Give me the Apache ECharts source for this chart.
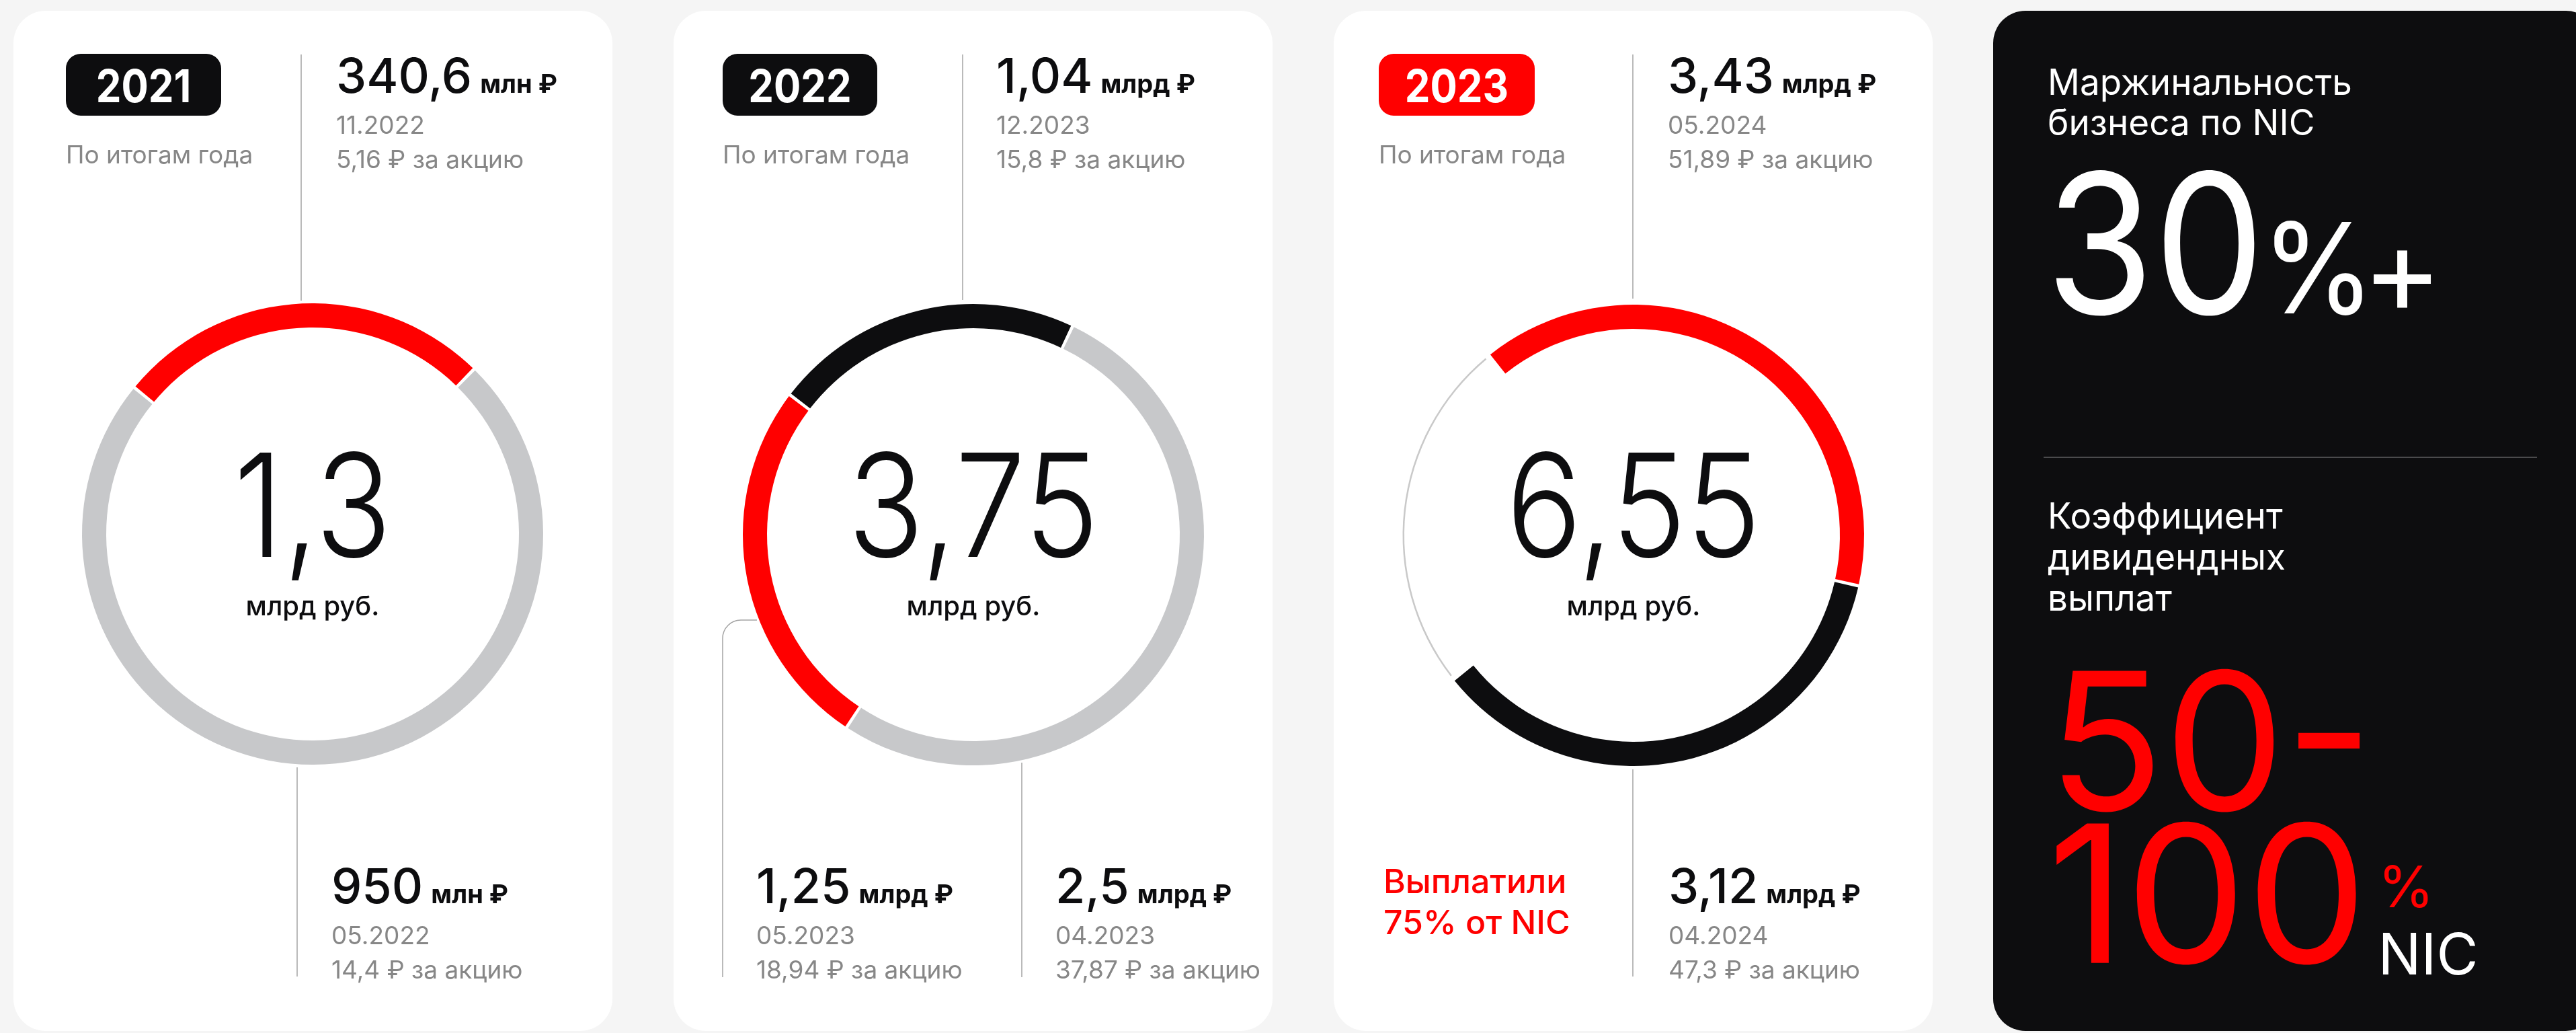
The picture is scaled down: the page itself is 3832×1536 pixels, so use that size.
<!DOCTYPE html>
<html>
<head>
<meta charset="utf-8">
<script src="https://cdn.jsdelivr.net/npm/echarts@6/dist/echarts.min.js"></script>
<style>
  html, body { margin: 0; padding: 0; background: #f5f5f5; }
  #chart { width: 3832px; height: 1536px; }
</style>
</head>
<body>
<div id="chart"></div>
<script>
const FONT = 'Inter, "Noto Sans", sans-serif'
const RED = '#ff0000'
const BLACK = '#0d0d0f'
const GRAY = '#c7c8ca'
const MUTED = '#878787'
const LINE = '#a3a3a3'
const NONE = 'rgba(0,0,0,0)'

// data
const years = ['2021', '2022', '2023']
const yearTotals = ['1,3', '3,75', '6,55']
const totalUnit = 'млрд руб.'
const yearNote = 'По итогам года'

// ring parts, clockwise from the start angle
const ring2021 = [340.6, 950]
const ring2022 = [1.04, 2.5, 1.25]
const ring2023 = [3.43, 3.12, 2.18] // last part = not paid (25% of NIC)

// payments: amount, unit, date, per share
const top2021 = ['340,6', 'млн ₽', '11.2022', '5,16 ₽ за акцию']
const bottom2021 = ['950', 'млн ₽', '05.2022', '14,4 ₽ за акцию']
const top2022 = ['1,04', 'млрд ₽', '12.2023', '15,8 ₽ за акцию']
const bottomLeft2022 = ['1,25', 'млрд ₽', '05.2023', '18,94 ₽ за акцию']
const bottomRight2022 = ['2,5', 'млрд ₽', '04.2023', '37,87 ₽ за акцию']
const top2023 = ['3,43', 'млрд ₽', '05.2024', '51,89 ₽ за акцию']
const bottom2023 = ['3,12', 'млрд ₽', '04.2024', '47,3 ₽ за акцию']
const paidNote = ['Выплатили', '75% от NIC']

const marginTitle = ['Маржинальность', 'бизнеса по NIC']
const marginValue = ['30', '%', '+']
const payoutTitle = ['Коэффициент', 'дивидендных', 'выплат']
const payoutRange = ['50-', '100']
const payoutUnit = ['%', 'NIC']

// helpers
const ctx = document.createElement('canvas').getContext('2d')
function measure(str, size, weight) {
  ctx.font = weight + ' ' + size + 'px ' + FONT
  return ctx.measureText(str).width
}

// base = baseline y; sx = horizontal squeeze (the original face is narrower)
function text(x, base, str, size, weight, color, align, sx) {
  return {
    type: 'text',
    x: x,
    y: base - 0.305 * size,
    scaleX: sx || 1,
    silent: true,
    z: 10,
    style: {
      text: str,
      fontSize: size,
      fontWeight: weight,
      fontFamily: FONT,
      fill: color,
      align: align || 'left',
      verticalAlign: 'middle',
    },
  }
}

function line(x1, y1, x2, y2, color, width) {
  return {
    type: 'line',
    silent: true,
    shape: { x1, y1, x2, y2 },
    style: { stroke: color || LINE, lineWidth: width || 1.5 },
  }
}

function card(x, w, fill) {
  return {
    type: 'rect',
    silent: true,
    z: -10,
    shape: { x: x, y: 16, width: w, height: 1517, r: 48 },
    style: { fill: fill },
  }
}

function badge(x, w, label, fill) {
  return [
    {
      type: 'rect',
      silent: true,
      shape: { x: x, y: 80, width: w, height: 92, r: 22 },
      style: { fill: fill },
    },
    text(x + w / 2, 152, label, 68, 700, '#fff', 'center', 0.88),
  ]
}

// amount + unit, date, per share
function payment(x, base, item) {
  const w = measure(item[0], 72, 500)
  return [
    text(x, base, item[0], 72, 500, BLACK),
    text(x + w + 12, base, item[1], 38, 700, BLACK),
    text(x, base + 61, item[2], 37, 400, MUTED),
    text(x, base + 112, item[3], 37, 400, MUTED),
  ]
}

function centerTotal(cx, value) {
  return [
    text(cx, 829, value, 213, 300, BLACK, 'center', 0.88),
    text(cx, 915, totalUnit, 40, 500, BLACK, 'center'),
  ]
}

function ring(center, values, colors, startAngle, radius, pad) {
  return {
    type: 'pie',
    center: center,
    radius: radius,
    startAngle: startAngle,
    clockwise: true,
    padAngle: pad,
    silent: true,
    animation: false,
    label: { show: false },
    labelLine: { show: false },
    emphasis: { disabled: true },
    data: values.map(function (v, i) {
      return { value: v, itemStyle: { color: colors[i], borderWidth: 0 } }
    }),
  }
}

const RING = [307, 343]

const graphics = [
  card(20, 891, '#fff'),
  card(1002, 891, '#fff'),
  card(1984, 891, '#fff'),
  card(2965, 900, BLACK),

  // 2021
  ...badge(98, 231, years[0], BLACK),
  text(98, 243, yearNote, 37, 400, MUTED),
  line(448, 81, 448, 447),
  ...payment(500, 138, top2021),
  ...centerTotal(465, yearTotals[0]),
  line(442, 1141, 442, 1452),
  ...payment(493, 1343, bottom2021),

  // 2022
  ...badge(1075, 230, years[1], BLACK),
  text(1075, 243, yearNote, 37, 400, MUTED),
  line(1432, 81, 1432, 446),
  ...payment(1482, 138, top2022),
  ...centerTotal(1448, yearTotals[1]),
  line(1102, 922, 1126, 922),
  {
    type: 'arc',
    silent: true,
    shape: { cx: 1102, cy: 949, r: 27, startAngle: Math.PI, endAngle: Math.PI * 1.5, clockwise: true },
    style: { stroke: LINE, lineWidth: 1.5, fill: null },
  },
  line(1075, 949, 1075, 1453),
  line(1520, 1134, 1520, 1453),
  ...payment(1125, 1343, bottomLeft2022),
  ...payment(1570, 1343, bottomRight2022),

  // 2023
  ...badge(2051, 232, years[2], RED),
  text(2051, 243, yearNote, 37, 400, MUTED),
  line(2429, 81, 2429, 444),
  ...payment(2481, 138, top2023),
  ...centerTotal(2430, yearTotals[2]),
  line(2429, 1144, 2429, 1452),
  ...payment(2482, 1343, bottom2023),
  text(2058, 1328, paidNote[0], 50, 500, RED),
  text(2058, 1389, paidNote[1], 50, 500, RED),

  // summary card
  text(3046, 141, marginTitle[0], 53, 400, '#fff'),
  text(3046, 201, marginTitle[1], 53, 400, '#fff'),
  text(3043, 468, marginValue[0], 290, 400, '#fff', 'left', 0.9),
  text(3364, 467, marginValue[1], 187, 400, '#fff', 'left', 0.92),
  text(3514, 467, marginValue[2], 180, 400, '#fff'),
  line(3040, 680, 3774, 680, '#4a4a4c', 2),
  text(3046, 786, payoutTitle[0], 53, 400, '#fff'),
  text(3046, 847, payoutTitle[1], 53, 400, '#fff'),
  text(3046, 908, payoutTitle[2], 53, 400, '#fff'),
  text(3046, 1206, payoutRange[0], 285, 400, RED),
  text(3046, 1433, payoutRange[1], 285, 400, RED),
  text(3046 + measure(payoutRange[1], 285, 400) + 16, 1349, payoutUnit[0], 85, 400, RED),
  text(3046 + measure(payoutRange[1], 285, 400) + 16, 1449, payoutUnit[1], 85, 400, '#fff'),
]

const chart = echarts.init(document.getElementById('chart'), null, { renderer: 'canvas' })
chart.setOption({
  backgroundColor: '#f5f5f5',
  animation: false,
  graphic: { elements: graphics },
  series: [
    ring([465, 794], ring2021, [RED, GRAY], 140.6, RING, 0.8),
    ring([1448, 795], ring2022, [BLACK, GRAY, RED], 142.7, RING, 0.8),
    ring([2430, 796], ring2023, [RED, BLACK, NONE], 128.8, RING, 0.8),
    ring([2430, 796], ring2023, [NONE, NONE, '#c9c9c9'], 128.8, [341, 343.5], 2.2),
  ],
})
</script>
</body>
</html>
